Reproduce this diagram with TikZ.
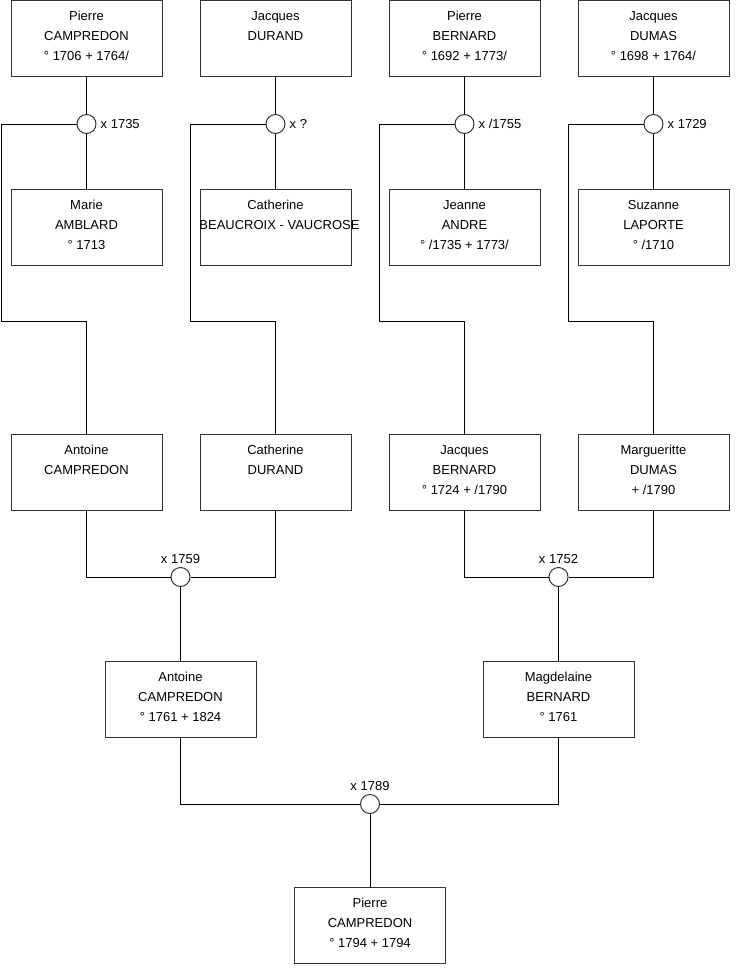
\documentclass[tikz,border=0pt]{standalone}
\usepackage{fontspec}
\setmainfont{Liberation Sans}
\usetikzlibrary{positioning}
\definecolor{genInk}{HTML}{000000}
\definecolor{genFrame}{HTML}{333333}
\tikzset{
  gen person/.style={draw=genFrame, line width=1pt, fill=white, inner sep=0pt, outer sep=0pt},
  gen union/.style={circle, draw=genFrame, line width=1pt, fill=white, minimum size=19pt, inner sep=0pt},
  gen link/.style={draw=genInk, line width=1pt},
  gen label/.style={font=\fontsize{13}{16}\selectfont, text=genInk, inner sep=0pt},
}
% one person card: text set from the top of a 151 x 76 frame
\newcommand{\gencard}[1]{%
  \begin{minipage}[t][76pt][t]{151pt}\fontsize{13}{20}\selectfont\centering
  \rule{0pt}{20pt}#1\end{minipage}}

\begin{document}
\begin{tikzpicture}[x=1pt, y=-1pt]
  \useasboundingbox (0,0) rectangle (740,975);

  % Great-grandparents
  \node[gen person] (pierreC)  at (86.5,38.5)  {\gencard{Pierre\\CAMPREDON\\° 1706 + 1764/}};
  \node[gen person] (jacquesD) at (275.5,38.5) {\gencard{Jacques\\DURAND}};
  \node[gen person] (pierreB)  at (464.5,38.5) {\gencard{Pierre\\BERNARD\\° 1692 + 1773/}};
  \node[gen person] (jacquesU) at (653.5,38.5) {\gencard{Jacques\\DUMAS\\° 1698 + 1764/}};

  % Their marriages
  \node[gen union] (m1) at (86.5,124)  {};
  \node[gen union] (m2) at (275.5,124) {};
  \node[gen union] (m3) at (464.5,124) {};
  \node[gen union] (m4) at (653.5,124) {};
  \node[gen label, right=4pt of m1] (l1) {x 1735};
  \node[gen label, right=4pt of m2] (l2) {x ?};
  \node[gen label, right=4pt of m3] (l3) {x /1755};
  \node[gen label, right=4pt of m4] (l4) {x 1729};

  % Spouses
  \node[gen person] (marieA)     at (86.5,227)  {\gencard{Marie\\AMBLARD\\° 1713}};
  \node[gen person] (catherineB) at (275.5,227) {\gencard{Catherine\\\makebox[0pt]{\hspace*{8pt}BEAUCROIX - VAUCROSE}}};
  \node[gen person] (jeanneA)    at (464.5,227) {\gencard{Jeanne\\ANDRE\\° /1735 + 1773/}};
  \node[gen person] (suzanneL)   at (653.5,227) {\gencard{Suzanne\\LAPORTE\\° /1710}};

  % Grandparents
  \node[gen person] (antoineC)   at (86.5,472.5)  {\gencard{Antoine\\CAMPREDON}};
  \node[gen person] (catherineD) at (275.5,472.5) {\gencard{Catherine\\DURAND}};
  \node[gen person] (jacquesB)   at (464.5,472.5) {\gencard{Jacques\\BERNARD\\° 1724 + /1790}};
  \node[gen person] (margD)      at (653.5,472.5) {\gencard{Margueritte\\DUMAS\\+ /1790}};

  \node[gen union] (m5) at (180.5,577) {};
  \node[gen union] (m6) at (558.5,577) {};
  \node[gen label, above=3pt of m5] (l5) {x 1759};
  \node[gen label, above=3pt of m6] (l6) {x 1752};

  % Parents
  \node[gen person] (antoineP)    at (180.5,699) {\gencard{Antoine\\CAMPREDON\\° 1761 + 1824}};
  \node[gen person] (magdelaineB) at (558.5,699) {\gencard{Magdelaine\\BERNARD\\° 1761}};

  \node[gen union] (m7) at (370,804) {};
  \node[gen label, above=3pt of m7] (l7) {x 1789};

  % Child
  \node[gen person] (pierreP) at (370,925.5) {\gencard{Pierre\\CAMPREDON\\° 1794 + 1794}};

  % Bends of the descent lines
  \coordinate (k1) at (1,321);
  \coordinate (k2) at (190,321);
  \coordinate (k3) at (379,321);
  \coordinate (k4) at (568,321);

  % Couples
  \foreach \a/\m/\b in {pierreC/m1/marieA, jacquesD/m2/catherineB,
                        pierreB/m3/jeanneA, jacquesU/m4/suzanneL}
    \draw[gen link] (\a) -- (\m) -- (\b);

  % Descent
  \foreach \m/\k/\c in {m1/k1/antoineC, m2/k2/catherineD,
                        m3/k3/jacquesB, m4/k4/margD}
    \draw[gen link] (\m.west) -| (\k) -| (\c.north);

  \draw[gen link] (antoineC.south) |- (m5.west);
  \draw[gen link] (catherineD.south) |- (m5.east);
  \draw[gen link] (m5) -- (antoineP);
  \draw[gen link] (jacquesB.south) |- (m6.west);
  \draw[gen link] (margD.south) |- (m6.east);
  \draw[gen link] (m6) -- (magdelaineB);
  \draw[gen link] (antoineP.south) |- (m7.west);
  \draw[gen link] (magdelaineB.south) |- (m7.east);
  \draw[gen link] (m7) -- (pierreP);
\end{tikzpicture}
\end{document}
